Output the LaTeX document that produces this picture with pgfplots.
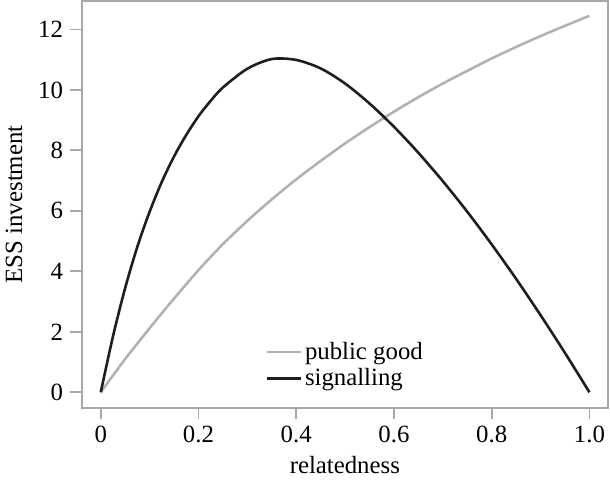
\documentclass[border=0pt]{standalone}
\usepackage{fontspec}
\setmainfont{Liberation Serif}
\usepackage{pgfplots}
\pgfplotsset{compat=1.18}
\definecolor{axgray}{HTML}{A8A8A8}
\definecolor{curvegray}{HTML}{B2B2B2}
\definecolor{curveblack}{HTML}{1E1E1E}
\begin{document}
\begin{tikzpicture}[font=\fontsize{12.4pt}{15pt}\selectfont]
\useasboundingbox (-40.85pt,-36.65pt) rectangle (264.15pt,203.85pt);
\begin{axis}[
  scale only axis,
  width=263.15pt, height=203.35pt,
  xmin=-0.039, xmax=1.038,
  ymin=-0.51, ymax=12.94,
  xtick={0,0.2,0.4,0.6,0.8,1.0},
  xticklabels={0,0.2,0.4,0.6,0.8,1.0},
  ytick={0,2,4,6,8,10,12},
  xtick pos=bottom, ytick pos=left,
  tick align=outside,
  major tick length=5.8pt,
  axis line style={axgray, line width=0.9pt},
  every tick/.style={axgray, line width=0.9pt},
  /pgf/number format/assume math mode=true,
  xlabel={relatedness},
  ylabel={ESS investment},
  xlabel style={at={(axis description cs:0.5,-0.1606)}, anchor=base, inner sep=0pt},
  ylabel style={at={(axis description cs:-0.1134,0.5)}, anchor=base, inner sep=0pt},
  legend style={at={(axis description cs:0.348,0.17)}, anchor=north west,
    draw=none, fill=none, inner sep=0pt, nodes={inner sep=1.5pt}},
  legend cell align=left,
]
\addplot[curvegray, line width=1.3pt, smooth] coordinates {
(0,0) (0.05,1.10) (0.1,2.12) (0.15,3.10) (0.2,4.04) (0.25,4.90) (0.3,5.67)
(0.35,6.38) (0.4,7.04) (0.45,7.65) (0.5,8.23) (0.55,8.77) (0.6,9.28)
(0.65,9.76) (0.7,10.21) (0.75,10.63) (0.8,11.04) (0.85,11.42) (0.9,11.78)
(0.95,12.12) (1.0,12.45)
};
\addlegendentry{public good}
\addplot[curveblack, line width=1.3pt, smooth] coordinates {
(0,0) (0.025,1.85) (0.05,3.45) (0.075,4.82) (0.1,5.97) (0.125,6.96)
(0.15,7.80) (0.175,8.51) (0.2,9.13) (0.225,9.64) (0.25,10.08) (0.3,10.70)
(0.35,11.02) (0.4,10.99) (0.45,10.71) (0.5,10.21) (0.55,9.55) (0.6,8.78)
(0.65,7.92) (0.7,6.98) (0.75,5.97) (0.8,4.89) (0.85,3.75) (0.9,2.55)
(0.95,1.30) (1.0,0)
};
\addlegendentry{signalling}
\end{axis}
\end{tikzpicture}
\end{document}
